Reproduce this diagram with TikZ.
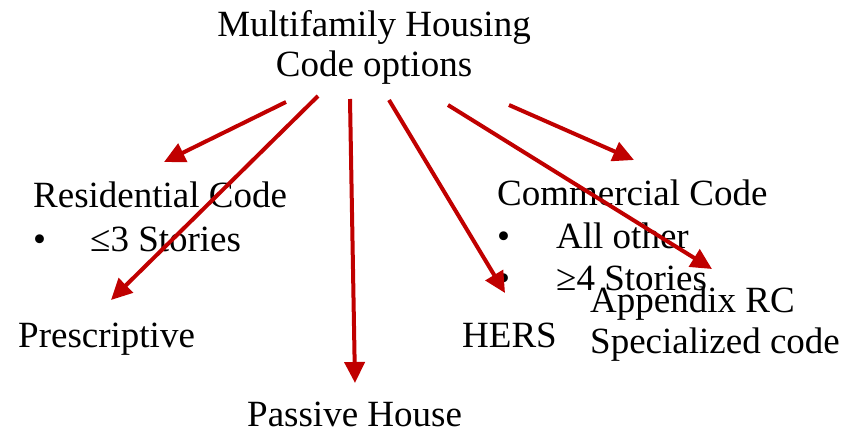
\documentclass[tikz,border=0pt]{standalone}
\usepackage{fontspec}
\setmainfont{Liberation Serif}
\usetikzlibrary{arrows.meta}
\definecolor{arrowred}{RGB}{192,0,0}
\begin{document}
\begin{tikzpicture}[x=1pt,y=-1pt,
  lbl/.style={inner sep=0pt, anchor=base west, font=\fontsize{37}{40}\selectfont},
  arr/.style={draw=arrowred, line width=4pt, -{Triangle[length=21pt,width=20pt]}}]
\useasboundingbox (0,0) rectangle (857,434);
% texts
\node[lbl, anchor=base] (title1) at (374,36) {Multifamily Housing};
\node[lbl, anchor=base] (title2) at (374,76) {Code options};
\node[lbl] (res) at (33,207) {Residential Code};
\node[lbl] (resb) at (33,251) {•};
\node[lbl] (rest) at (90,251) {≤3 Stories};
\node[lbl] (com) at (497,205) {Commercial Code};
\node[lbl] (comb1) at (497,248) {•};
\node[lbl] (comt1) at (556,248) {All other};
\node[lbl] (comb2) at (497,290) {•};
\node[lbl] (comt2) at (556,290) {≥4 Stories};
\node[lbl] (app1) at (590,312) {Appendix RC};
\node[lbl] (app2) at (590,353) {Specialized code};
\node[lbl] (pre) at (18,347) {Prescriptive};
\node[lbl] (hers) at (462,347) {HERS};
\node[lbl] (pas) at (247,426) {Passive House};
% arrow ends
\coordinate (sA) at (286,102); \coordinate (tA) at (164,162);
\coordinate (sB) at (318,96);  \coordinate (tB) at (111,300);
\coordinate (sC) at (350,99);  \coordinate (tC) at (355,383);
\coordinate (sD) at (389,100); \coordinate (tD) at (505,293);
\coordinate (sE) at (448,105); \coordinate (tE) at (712,269);
\coordinate (sF) at (509,105); \coordinate (tF) at (634,160);
\draw[arr] (sA) -- (tA);
\draw[arr] (sB) -- (tB);
\draw[arr] (sC) -- (tC);
\draw[arr] (sD) -- (tD);
\draw[arr] (sE) -- (tE);
\draw[arr] (sF) -- (tF);
\end{tikzpicture}
\end{document}
